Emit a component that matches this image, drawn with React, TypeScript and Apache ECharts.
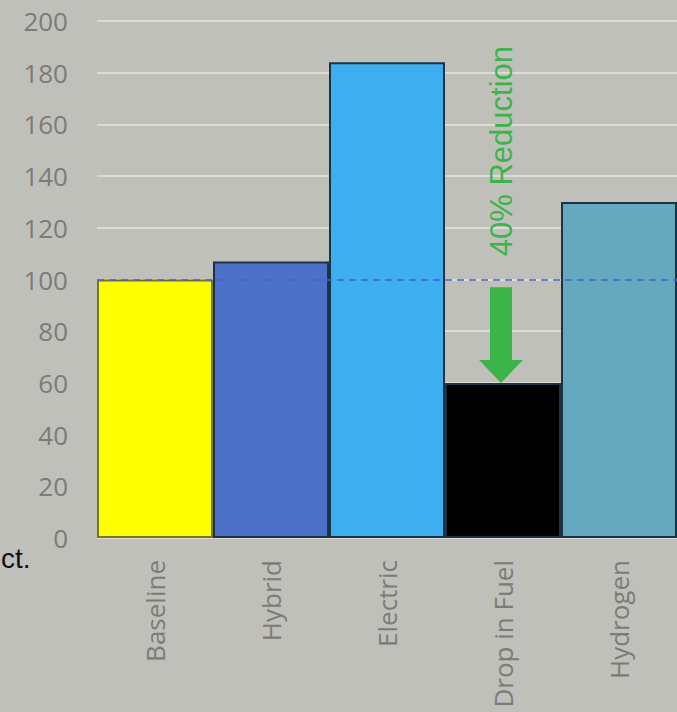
import React, { useEffect, useRef } from "react";
import * as echarts from "echarts";

// Relative fuel use by powertrain option (baseline = 100)
const categories = ["Baseline", "Hybrid", "Electric", "Drop in Fuel", "Hydrogen"];
const values = [100, 107, 184, 60, 130];
const barColors = ["#ffff00", "#4a70c8", "#3daff0", "#000000", "#65a9bf"];
const barBorders = ["#77771c", "#1d3344", "#1d3344", "#1d3344", "#1d3344"];
const yTicks = { min: 0, max: 200, interval: 20 };
const baselineValue = 100;
// Arrow showing the drop from baseline for the drop-in fuel option
const arrowData = [[3, 97, 60]];
const arrowText = "40% Reduction";
const arrowTextValue = 109;

export default function App() {
  const ref = useRef<HTMLDivElement>(null);

  useEffect(() => {
    document.body.style.margin = "0";
    if (!ref.current) return;
    const chart = echarts.init(ref.current, null, { renderer: "svg" });
    const labelColor = "#7b7b77";
    const font = "'Open Sans', 'Noto Sans', sans-serif";

    chart.setOption({
      animation: false,
      backgroundColor: "#c0c0bb",
      grid: { left: 97, right: 0, top: 21, bottom: 174, containLabel: false },
      xAxis: {
        type: "category",
        data: categories,
        axisLine: { show: false },
        axisTick: { show: false },
        axisLabel: {
          rotate: 90,
          margin: 22,
          color: labelColor,
          fontSize: 26,
          fontFamily: font,
        },
      },
      yAxis: {
        type: "value",
        min: yTicks.min,
        max: yTicks.max,
        interval: yTicks.interval,
        axisLine: { show: false },
        axisTick: { show: false },
        axisLabel: {
          margin: 29,
          color: labelColor,
          fontSize: 26,
          fontFamily: font,
        },
        splitLine: { lineStyle: { color: "#dcdcd7", width: 2 } },
      },
      graphic: [
        {
          type: "text",
          left: 1,
          top: 544,
          style: {
            text: "ct.",
            fill: "#111111",
            font: "28px 'Liberation Sans', Arial, sans-serif",
          },
        },
      ],
      series: [
        {
          type: "bar",
          data: values.map((v, i) => ({
            value: v,
            itemStyle: { color: barColors[i], borderColor: barBorders[i] },
          })),
          barCategoryGap: "0%",
          itemStyle: { borderWidth: 2 },
          markLine: {
            silent: true,
            symbol: ["none", "none"],
            label: { show: false },
            lineStyle: { color: "#4c5fd4", type: [7, 5], width: 1.5 },
            data: [{ yAxis: baselineValue }],
          },
          z: 2,
        },
        {
          type: "custom",
          data: arrowData,
          z: 5,
          renderItem: (params: any, api: any) => {
            const top = api.coord([api.value(0), api.value(1)]);
            const tip = api.coord([api.value(0), api.value(2)]);
            const txt = api.coord([api.value(0), arrowTextValue]);
            const cx = top[0] - 2;
            const shaft = 11;
            const head = 22;
            const headLen = 23;
            const neck = tip[1] - headLen;
            return {
              type: "group",
              children: [
                {
                  type: "polygon",
                  shape: {
                    points: [
                      [cx - shaft, top[1]],
                      [cx + shaft, top[1]],
                      [cx + shaft, neck],
                      [cx + head, neck],
                      [cx, tip[1]],
                      [cx - head, neck],
                      [cx - shaft, neck],
                    ],
                  },
                  style: { fill: "#3bb44a" },
                },
                {
                  type: "text",
                  x: cx,
                  y: txt[1],
                  rotation: Math.PI / 2,
                  style: {
                    text: arrowText,
                    fill: "#3bb44a",
                    font: "31px 'Liberation Sans', Arial, sans-serif",
                    align: "left",
                    verticalAlign: "middle",
                  },
                },
              ],
            };
          },
        },
      ],
    });

    return () => chart.dispose();
  }, []);

  return <div ref={ref} style={{ width: 677, height: 712 }} />;
}
